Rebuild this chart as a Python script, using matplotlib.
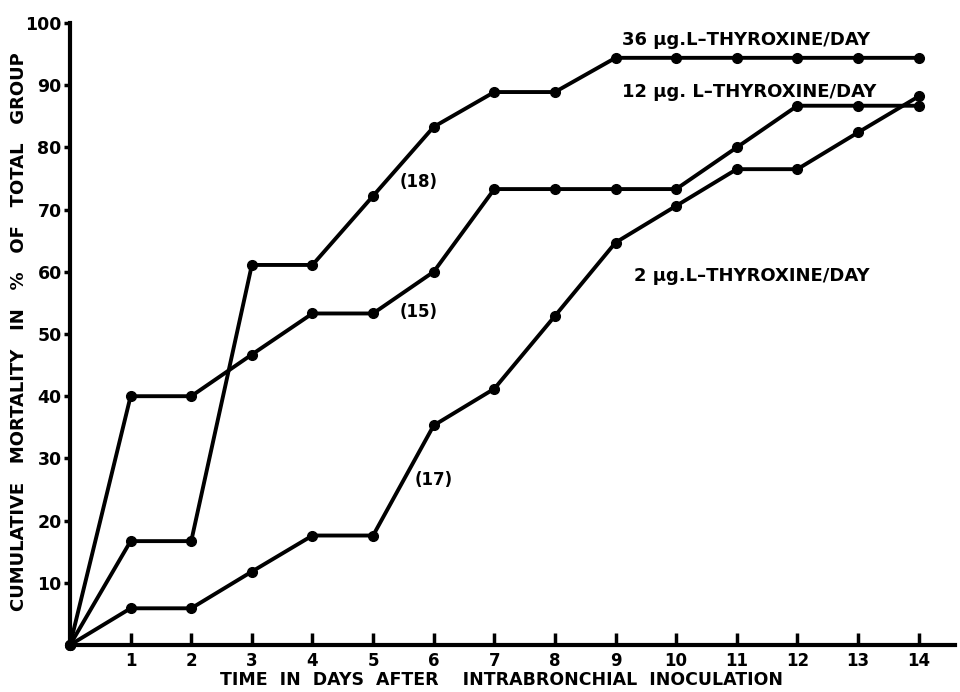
import matplotlib
matplotlib.use("Agg")
import matplotlib.pyplot as plt

days = list(range(0, 15))
dose36 = [0, 16.7, 16.7, 61.1, 61.1, 72.2, 83.3, 88.9, 88.9, 94.4, 94.4, 94.4, 94.4, 94.4, 94.4]
dose12 = [0, 40.0, 40.0, 46.7, 53.3, 53.3, 60.0, 73.3, 73.3, 73.3, 73.3, 80.0, 86.7, 86.7, 86.7]
dose2 = [0, 5.9, 5.9, 11.8, 17.6, 17.6, 35.3, 41.2, 52.9, 64.7, 70.6, 76.5, 76.5, 82.4, 88.2]
xticks = list(range(1, 15))
yticks = list(range(10, 101, 10))

plt.rcParams['font.family'] = ['DejaVu Sans']
plt.rcParams['font.weight'] = 'bold'

fig = plt.figure(figsize=(9.6, 6.92), dpi=100)
ax = fig.add_axes([70/960, 47/692, 885/960, 622/692])

for ys in (dose36, dose12, dose2):
    ax.plot(days, ys, color='black', lw=2.8, marker='o', ms=7,
            solid_joinstyle='round', clip_on=False, zorder=3)

ax.set_xlim(0, 14.6)
ax.set_ylim(0, 100)
ax.set_xticks(xticks)
ax.set_xticklabels([str(t) for t in xticks], fontsize=12, fontweight='bold')
ax.set_yticks(yticks)
ax.set_yticklabels([str(t) for t in yticks], fontsize=12.5, fontweight='bold')
ax.tick_params(axis='x', direction='in', length=9, width=2.5, pad=5)
ax.tick_params(axis='y', direction='out', length=4, width=2.5, pad=2)

for s in ('top', 'right'):
    ax.spines[s].set_visible(False)
for s in ('left', 'bottom'):
    ax.spines[s].set_linewidth(3)

fig.text(501/960, 12/692, "TIME  IN  DAYS  AFTER    INTRABRONCHIAL  INOCULATION",
         fontsize=12.5, fontweight='bold', ha='center', va='center')
fig.text(19/960, 1 - 332/692, "CUMULATIVE   MORTALITY   IN   %   OF   TOTAL   GROUP",
         fontsize=13, fontweight='bold', ha='center', va='center', rotation=90)

ax.text(9.1, 97.3, "36 \u03bcg.L\u2013THYROXINE/DAY", fontsize=13, fontweight='bold', va='center')
ax.text(9.1, 88.9, "12 \u03bcg. L\u2013THYROXINE/DAY", fontsize=13, fontweight='bold', va='center')
ax.text(9.3, 59.3, "2 \u03bcg.L\u2013THYROXINE/DAY", fontsize=13, fontweight='bold', va='center')
ax.text(5.75, 74.5, "(18)", fontsize=12, fontweight='bold', va='center', ha='center')
ax.text(5.75, 53.5, "(15)", fontsize=12, fontweight='bold', va='center', ha='center')
ax.text(6.0, 26.5, "(17)", fontsize=12, fontweight='bold', va='center', ha='center')

fig.savefig("out.png", dpi=100)
